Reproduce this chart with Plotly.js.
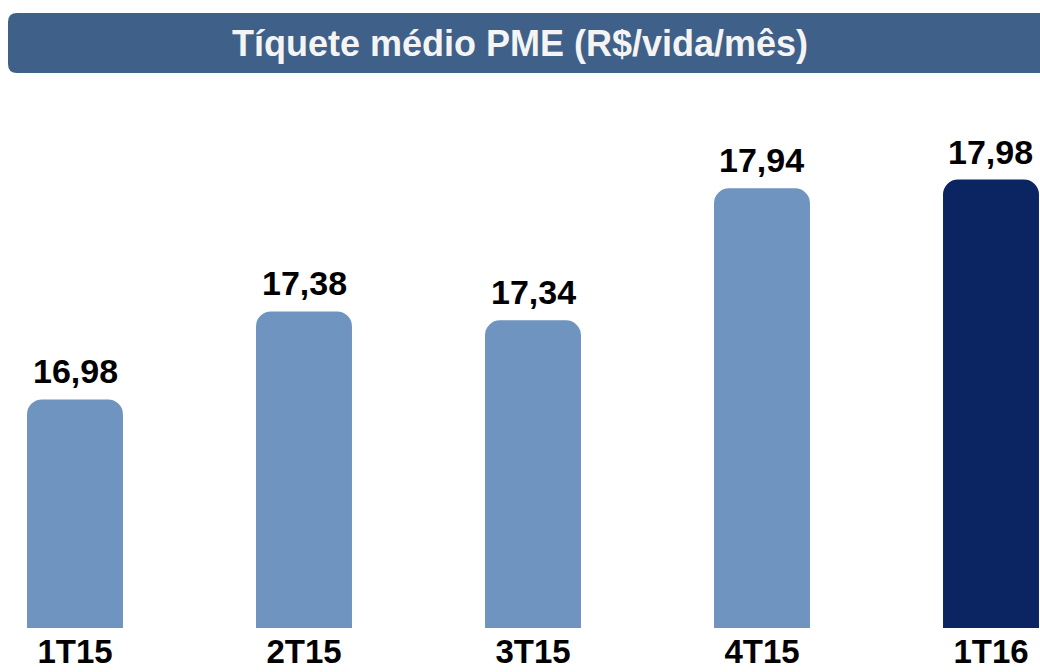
<!DOCTYPE html>
<html>
<head>
<meta charset="utf-8">
<script src="https://cdn.plot.ly/plotly-3.0.1.min.js"></script>
<style>
html,body{margin:0;padding:0;background:#fff;}
#chart{width:1040px;height:672px;}
</style>
</head>
<body>
<div id="chart"></div>
<script>
const categories = ["1T15", "2T15", "3T15", "4T15", "1T16"];
const values = [16.98, 17.38, 17.34, 17.94, 17.98];
const barColors = ["#6f94c0", "#6f94c0", "#6f94c0", "#6f94c0", "#0b2562"];
const chartTitle = "Tíquete médio PME (R$/vida/mês)";

const W = 1040, H = 672, mT = 100, mB = 44;
const plotH = H - mT - mB;
const px = x => x / W;
const py = y => (H - mB - y) / plotH;

function roundedPath(x0, y0, x1, y1, r) {
  return `M ${px(x0 + r)} ${py(y0)} L ${px(x1 - r)} ${py(y0)} Q ${px(x1)} ${py(y0)} ${px(x1)} ${py(y0 + r)} ` +
         `L ${px(x1)} ${py(y1 - r)} Q ${px(x1)} ${py(y1)} ${px(x1 - r)} ${py(y1)} ` +
         `L ${px(x0 + r)} ${py(y1)} Q ${px(x0)} ${py(y1)} ${px(x0)} ${py(y1 - r)} ` +
         `L ${px(x0)} ${py(y0 + r)} Q ${px(x0)} ${py(y0)} ${px(x0 + r)} ${py(y0)} Z`;
}

const font = '"Liberation Sans", Arial, sans-serif';

const trace = {
  type: 'bar',
  x: categories,
  y: values,
  width: 0.419,
  marker: { color: barColors, cornerradius: 15, line: { width: 0 } },
  hoverinfo: 'skip'
};

const labelAnnotations = categories.map((c, i) => ({
  x: c, y: values[i], xref: 'x', yref: 'y',
  text: values[i].toFixed(2).replace('.', ','),
  showarrow: false, yanchor: 'bottom', yshift: 7,
  font: { family: font, size: 34, color: '#000', weight: 700 }
}));

const layout = {
  width: W, height: H,
  margin: { l: 0, r: 0, t: mT, b: mB, pad: 0 },
  paper_bgcolor: '#ffffff',
  plot_bgcolor: '#ffffff',
  separators: ',.',
  showlegend: false,
  title: {
    text: chartTitle,
    font: { family: font, size: 36, color: '#f4f4f4', weight: 700 },
    x: 0.5, xanchor: 'center',
    y: 1 - 43 / H, yanchor: 'middle', yref: 'container'
  },
  xaxis: {
    type: 'category',
    range: [-0.3275, 4.214],
    showgrid: false, zeroline: false, showline: false,
    ticks: '',
    ticklabelstandoff: 1,
    tickfont: { family: font, size: 33, color: '#000', weight: 700 },
    fixedrange: true
  },
  yaxis: {
    range: [15.94, 18.342],
    visible: false,
    showgrid: false, zeroline: false,
    fixedrange: true
  },
  annotations: labelAnnotations,
  shapes: [{
    type: 'path', xref: 'paper', yref: 'paper', layer: 'below',
    path: roundedPath(8, 13, 1070, 73, 9),
    fillcolor: '#3e6089', line: { width: 0 }
  }]
};

Plotly.newPlot('chart', [trace], layout, { displayModeBar: false, staticPlot: true });
</script>
</body>
</html>
